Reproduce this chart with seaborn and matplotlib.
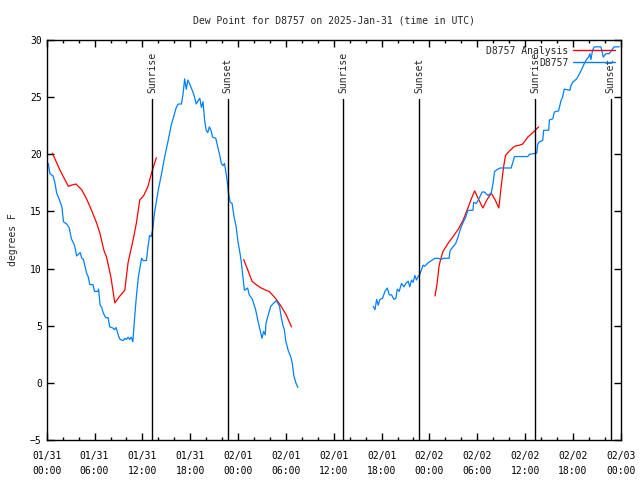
import pandas as pd
import matplotlib
matplotlib.use("Agg")
import matplotlib.pyplot as plt
import matplotlib.dates as mdates
import seaborn as sns

# --- data: hours after 2025-01-31 00:00 UTC, dew point in F ---
obs1_hours = [0.2, 0.4, 0.8, 1.0, 1.25, 1.6, 1.9, 2.1, 2.5, 2.8, 3.1, 3.5, 3.75, 4.2, 4.4,
              4.6, 4.8, 5.0, 5.2, 5.4, 5.8, 6.0, 6.4, 6.5, 6.7, 6.9, 7.1, 7.4, 7.7, 7.9,
              8.3, 8.5, 8.7, 9.0, 9.2, 9.6, 9.8, 10.0, 10.2, 10.4, 10.6, 10.8, 11.0, 11.25,
              11.5, 11.9, 12.1, 12.5, 12.7, 12.9, 13.1, 13.3, 13.5, 14.0, 14.4, 14.8, 15.2,
              15.6, 15.8, 16.25, 16.5, 16.9, 17.1, 17.3, 17.5, 17.7, 17.9, 18.25, 18.5,
              18.75, 19.0, 19.2, 19.4, 19.6, 19.8, 20.0, 20.2, 20.4, 20.6, 20.8, 21.2, 21.5,
              21.7, 21.9, 22.1, 22.3, 22.5, 22.7, 22.8, 23.0, 23.25, 23.5, 23.75, 24.0,
              24.25, 24.4, 24.6, 24.8, 25.0, 25.2, 25.4, 25.8, 26.2, 26.5, 26.75, 27.0,
              27.2, 27.4, 27.5, 27.8, 28.1, 28.5, 28.8, 29.2, 29.4, 29.6, 29.8, 30.0, 30.3,
              30.6, 30.8, 31.0, 31.25, 31.5]
obs1_dewpt = [19.2, 18.3, 18.1, 17.6, 16.6, 16.0, 15.4, 14.1, 13.9, 13.6, 12.6, 12.0, 11.1,
              11.4, 10.9, 10.8, 10.2, 9.6, 9.3, 8.6, 8.6, 8.0, 8.0, 8.2, 6.8, 6.6, 6.1, 5.7,
              5.7, 4.9, 4.8, 4.65, 4.85, 4.1, 3.8, 3.7, 3.9, 3.8, 4.0, 3.8, 4.0, 3.6, 5.5,
              7.6, 9.3, 10.9, 10.7, 10.7, 11.9, 12.9, 12.8, 13.4, 14.8, 16.9, 18.3, 19.8,
              21.1, 22.5, 23.0, 24.1, 24.4, 24.4, 25.3, 26.6, 25.7, 26.5, 26.2, 25.6, 25.1,
              24.4, 24.7, 24.9, 24.1, 24.6, 23.0, 22.1, 21.9, 22.4, 22.1, 21.5, 21.4, 20.5,
              19.9, 19.2, 19.0, 19.2, 18.3, 17.3, 16.6, 15.8, 15.7, 14.5, 13.7, 12.3, 11.3,
              10.6, 9.3, 8.1, 8.2, 8.3, 7.7, 7.3, 6.4, 5.4, 4.65, 3.9, 4.5, 4.2, 5.2, 6.0,
              6.7, 7.0, 7.2, 6.7, 5.8, 5.1, 4.65, 3.6, 2.8, 2.3, 1.7, 0.6, 0.0, -0.4]

obs2_hours = [40.96, 41.17, 41.38, 41.58, 41.79, 42.12, 42.42, 42.71, 42.96, 43.25, 43.54,
              43.79, 43.96, 44.2, 44.5, 44.8, 45.04, 45.33, 45.54, 45.75, 45.96, 46.17,
              46.38, 46.58, 46.8, 47.0, 47.2, 47.4, 47.83, 48.25, 48.67, 49.08, 49.5, 49.7,
              50.46, 50.6, 50.96, 51.3, 51.6, 51.9, 52.2, 52.54, 52.83, 53.46, 53.54, 53.88,
              54.2, 54.62, 54.9, 55.33, 55.75, 55.96, 56.17, 56.58, 56.88, 58.25, 58.46,
              58.67, 60.33, 60.54, 61.46, 61.58, 61.8, 62.2, 62.33, 62.96, 63.04, 63.46,
              63.67, 64.2, 64.5, 64.7, 64.9, 65.62, 65.75, 65.96, 66.46, 66.7, 67.0, 67.2,
              67.4, 67.7, 67.96, 68.12, 68.25, 68.46, 68.67, 69.5, 69.62, 69.8, 70.12,
              70.54, 70.96, 71.17, 71.8]
obs2_dewpt = [6.7, 6.4, 7.3, 6.8, 7.3, 7.4, 8.0, 8.3, 7.7, 7.7, 7.3, 7.4, 8.2, 8.0, 8.7, 8.4,
              8.7, 8.9, 8.4, 9.0, 8.8, 9.4, 9.0, 9.3, 9.5, 9.9, 10.3, 10.2, 10.5, 10.7, 10.9,
              10.9, 10.8, 10.9, 10.9, 11.6, 11.9, 12.2, 12.8, 13.5, 14.0, 14.5, 15.1, 15.1,
              15.8, 15.7, 16.1, 16.7, 16.7, 16.4, 16.6, 17.4, 18.5, 18.7, 18.8, 18.8, 19.3,
              19.8, 19.8, 20.0, 20.1, 20.9, 21.1, 21.2, 22.1, 22.1, 23.0, 23.1, 23.7, 23.8,
              24.7, 25.0, 25.7, 25.6, 26.0, 26.3, 26.6, 26.9, 27.3, 27.6, 27.9, 28.3, 28.5,
              28.8, 28.3, 29.1, 29.4, 29.4, 29.1, 28.5, 28.8, 28.8, 29.2, 29.4, 29.4]

ana1_hours = [0.71, 1.67, 2.71, 3.12, 3.67, 4.38, 5.0, 5.62, 6.25, 6.67, 7.17, 7.5, 8.04,
              8.54, 9.17, 9.79, 10.2, 10.83, 11.25, 11.67, 12.17, 12.71, 13.0, 13.25, 13.75]
ana1_dewpt = [20.1, 18.6, 17.2, 17.3, 17.4, 16.9, 16.1, 15.1, 14.0, 13.1, 11.6, 11.0, 9.3,
              7.0, 7.6, 8.1, 10.5, 12.5, 14.0, 16.0, 16.4, 17.2, 18.0, 18.6, 19.7]

ana2_hours = [24.7, 25.2, 25.75, 26.25, 26.9, 27.5, 27.9, 28.3, 28.8, 29.4, 30.0, 30.7]
ana2_dewpt = [10.8, 9.9, 8.9, 8.6, 8.3, 8.1, 8.0, 7.7, 7.3, 6.7, 6.0, 4.9]

ana3_hours = [48.7, 48.96, 49.2, 49.4, 49.7, 50.33, 50.96, 51.58, 52.2, 52.83, 53.25, 53.67,
              54.2, 54.7, 55.2, 55.75, 56.25, 56.7, 57.0, 57.3, 57.54, 58.04, 58.67, 59.29,
              59.7, 60.33, 60.96, 61.7]
ana3_dewpt = [7.6, 8.7, 10.2, 10.8, 11.5, 12.2, 12.8, 13.4, 14.2, 15.3, 16.1, 16.8, 16.0,
              15.3, 16.0, 16.6, 16.0, 15.3, 17.2, 18.9, 19.9, 20.3, 20.7, 20.8, 20.9, 21.5,
              21.9, 22.4]

sun_events = ["Sunrise", "Sunset", "Sunrise", "Sunset", "Sunrise", "Sunset"]
sun_hours = [13.2, 22.7, 37.2, 46.7, 61.25, 70.75]

start = pd.Timestamp("2025-01-31 00:00")


def to_frame(hours, vals, series, seg):
    return pd.DataFrame({"time": start + pd.to_timedelta(hours, unit="h"),
                         "dewpt": vals, "series": series, "seg": seg})


df = pd.concat([
    to_frame(ana1_hours, ana1_dewpt, "D8757 Analysis", "a1"),
    to_frame(ana2_hours, ana2_dewpt, "D8757 Analysis", "a2"),
    to_frame(ana3_hours, ana3_dewpt, "D8757 Analysis", "a3"),
    to_frame(obs1_hours, obs1_dewpt, "D8757", "o1"),
    to_frame(obs2_hours, obs2_dewpt, "D8757", "o2"),
])

# --- plot ---
sns.set_style("ticks")
plt.rcParams["font.family"] = ["DejaVu Sans Mono"]
plt.rcParams["font.size"] = 7

fig = plt.figure(figsize=(6.4, 4.8), dpi=100)
ax = fig.add_axes([0.073, 0.0833, 0.897, 0.8334])

colors = {"D8757 Analysis": "#ff0000", "D8757": "#0080ff"}
for seg, grp in df.groupby("seg", sort=False):
    sns.lineplot(data=grp, x="time", y="dewpt", color=colors[grp["series"].iloc[0]],
                 lw=0.9, estimator=None, sort=False, ax=ax, legend=False)

# sunrise / sunset markers
ymin, ymax = -5, 30
for name, h in zip(sun_events, sun_hours):
    t = start + pd.Timedelta(hours=h)
    ax.axvline(t, ymin=0, ymax=(24.8 - ymin) / (ymax - ymin), color="black", lw=1)
    ax.text(t, 25.4, name, rotation=90, ha="center", va="bottom", fontsize=7)

ax.set_xlim(start, start + pd.Timedelta(hours=72))
ax.set_ylim(ymin, ymax)
ax.set_yticks(range(-5, 31, 5))
ax.xaxis.set_major_locator(mdates.HourLocator(byhour=[0, 6, 12, 18]))
ax.xaxis.set_minor_locator(mdates.HourLocator(byhour=range(0, 24, 2)))
ax.xaxis.set_major_formatter(mdates.DateFormatter("%m/%d\n%H:%M"))
ax.tick_params(which="both", direction="in", top=True, right=True, width=1,
               labelsize=7, colors="black")
ax.tick_params(which="major", length=5)
ax.tick_params(which="minor", length=2.5)
ax.tick_params(axis="x", which="major", pad=8)
plt.setp(ax.get_xticklabels(), linespacing=1.6)
for s in ax.spines.values():
    s.set_color("black")
    s.set_linewidth(1)

ax.set_xlabel("")
ax.set_ylabel("degrees F", fontsize=7, labelpad=9)
ax.set_title("Dew Point for D8757 on 2025-Jan-31 (time in UTC)", fontsize=7, pad=12)

handles = [plt.Line2D([], [], color=colors[k], lw=1) for k in ["D8757 Analysis", "D8757"]]
ax.legend(handles, ["D8757 Analysis", "D8757"], loc="upper right", frameon=False,
          markerfirst=False, handlelength=4.3, handletextpad=0.5, labelspacing=0.2,
          borderaxespad=0.2, fontsize=7)

fig.savefig("out.png", dpi=100)
